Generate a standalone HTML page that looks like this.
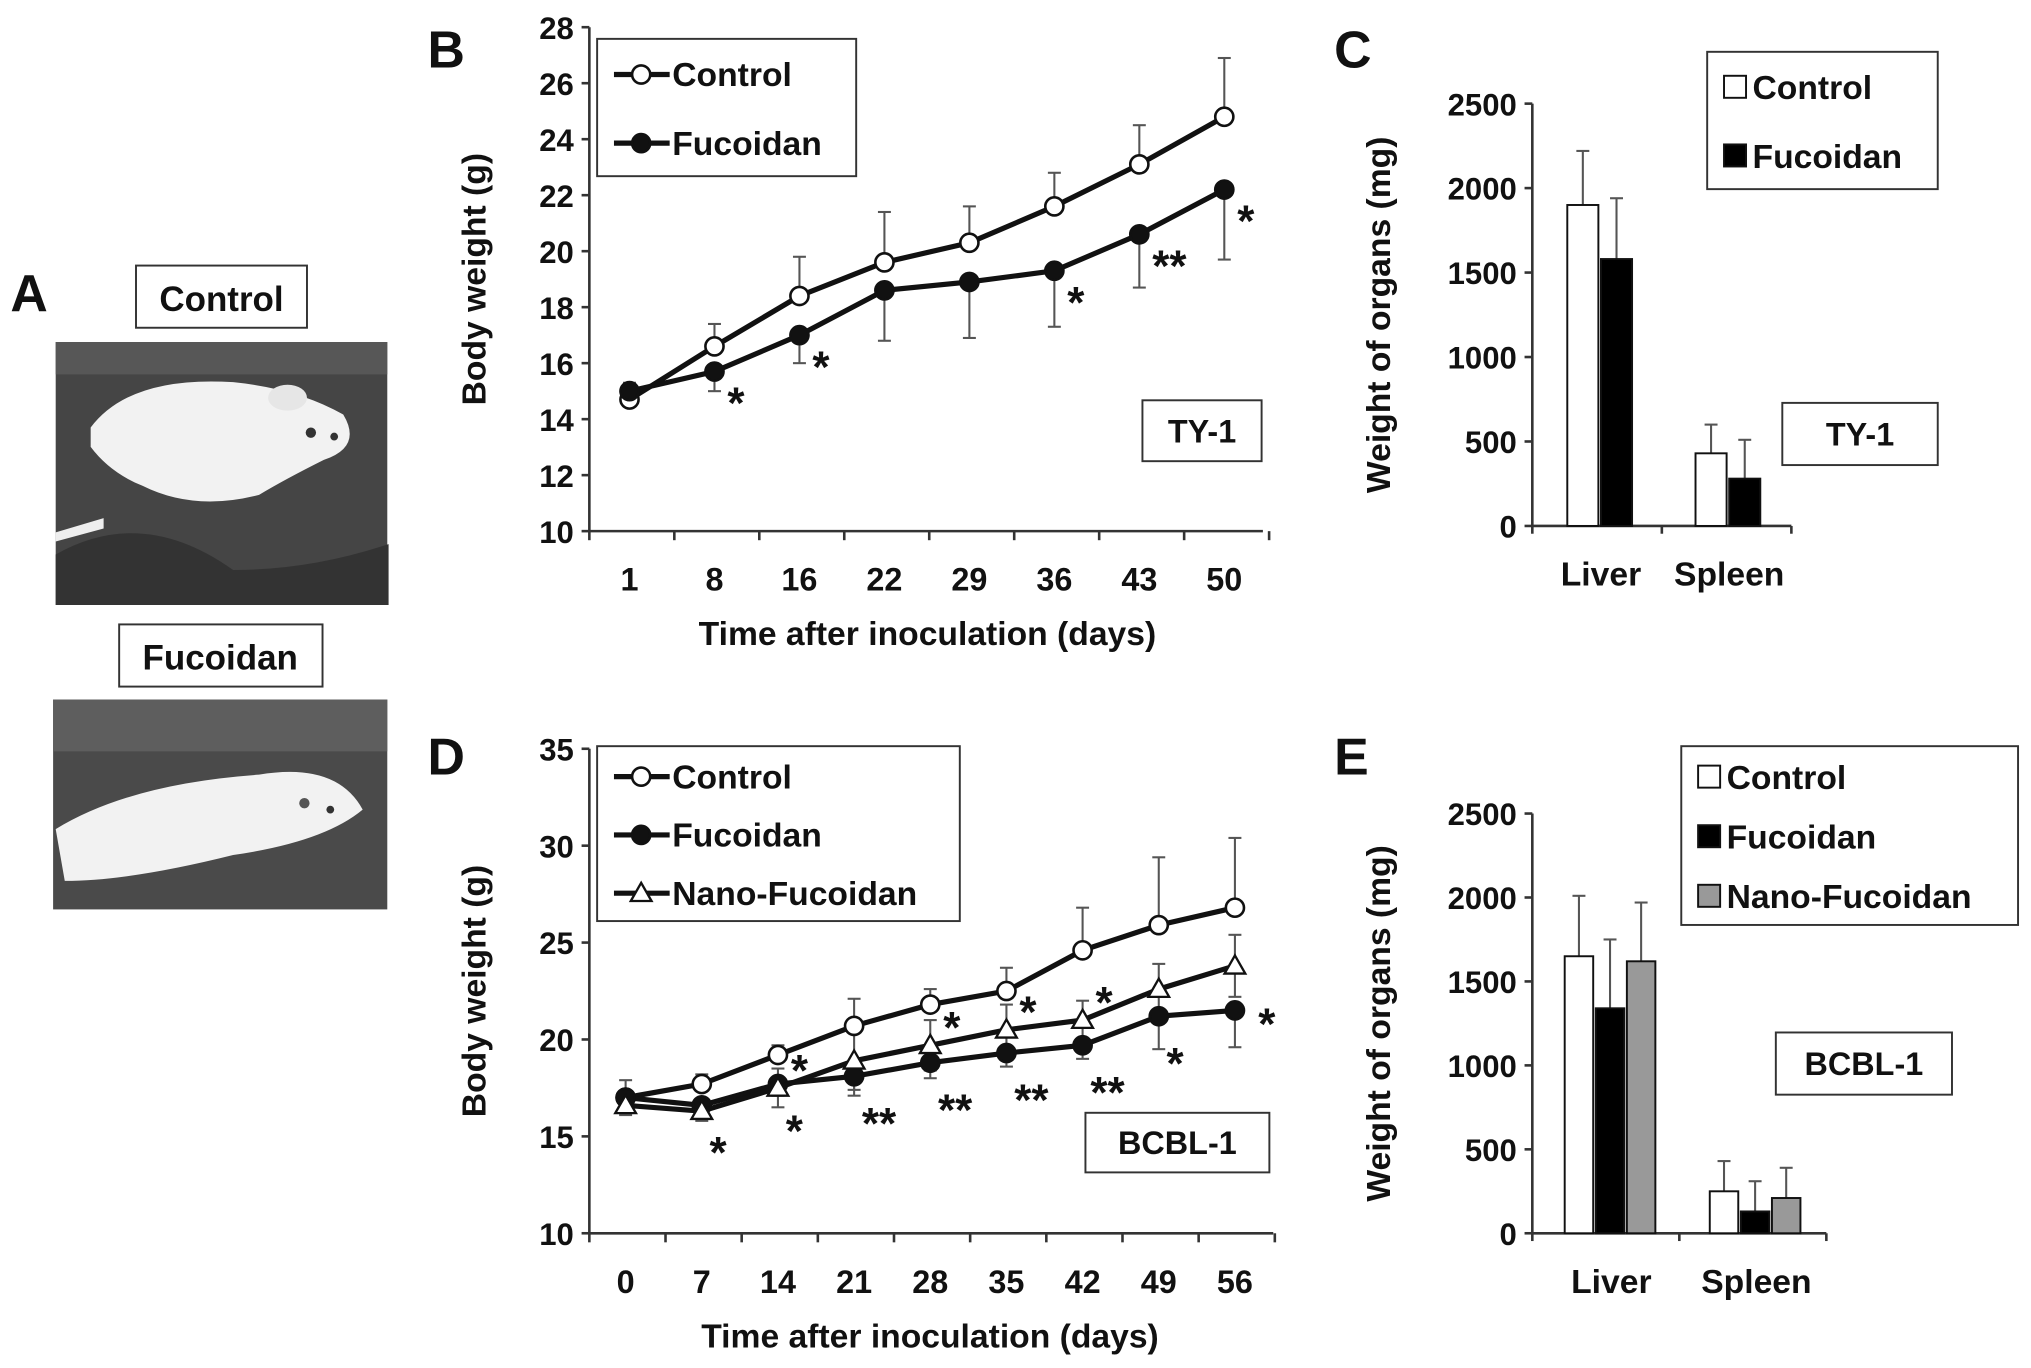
<!DOCTYPE html>
<html><head><meta charset="utf-8"><style>
html,body{margin:0;padding:0;background:#fff}
svg{display:block}
text{font-family:"Liberation Sans",Arial,sans-serif;font-weight:bold;fill:#111}
</style></head><body>
<svg id="fig" width="2031" height="1368" viewBox="0 0 1568 1056" preserveAspectRatio="none" xmlns="http://www.w3.org/2000/svg">
<g>
<text x="8" y="240" font-size="40">A</text>
<rect x="105" y="205" width="132" height="48" fill="#fff" stroke="#333" stroke-width="1.5"/>
<text x="171" y="240" font-size="27" text-anchor="middle">Control</text>
<g>
<rect x="43" y="264" width="256" height="203" fill="#454545"/>
<rect x="43" y="264" width="256" height="25" fill="#575757"/>
<path d="M43 428 Q110 390 180 440 Q240 440 300 420 L300 467 L43 467 Z" fill="#333"/>
<path d="M70 330 Q100 290 180 295 Q230 300 265 320 Q280 345 250 355 Q220 370 200 382 Q150 395 110 375 Q85 365 70 345 Z" fill="#f2f2f2"/>
<ellipse cx="222" cy="307" rx="15" ry="10" fill="#e6e6e6"/>
<path d="M43 411 L80 400 L80 408 L43 418 Z" fill="#eee"/>
<circle cx="240" cy="334" r="4" fill="#333"/><circle cx="258" cy="337" r="3" fill="#333"/>
</g>
<rect x="92" y="482" width="157" height="48" fill="#fff" stroke="#333" stroke-width="1.5"/>
<text x="170" y="517" font-size="27" text-anchor="middle">Fucoidan</text>
<g>
<rect x="41" y="540" width="258" height="162" fill="#4a4a4a"/>
<rect x="41" y="540" width="258" height="40" fill="#5e5e5e"/>
<path d="M43 640 Q100 605 200 598 Q260 588 280 625 Q250 650 180 660 Q100 680 50 680 Z" fill="#f2f2f2"/>
<circle cx="255" cy="625" r="3" fill="#333"/><circle cx="235" cy="620" r="4" fill="#555"/>
</g>
</g>
<g id="chartB"></g>
<g id="chartC"></g>
<g id="chartD"></g>
<g id="chartE"></g>
</svg>
<script>
const NS="http://www.w3.org/2000/svg";
// Panel B data
const bDays=["1","8","16","22","29","36","43","50"];
const bTicks=[10,12,14,16,18,20,22,24,26,28];
const bControl=[14.7,16.6,18.4,19.6,20.3,21.6,23.1,24.8];
const bControlErr=[0.6,0.8,1.4,1.8,1.3,1.2,1.4,2.1];
const bFuco=[15.0,15.7,17.0,18.6,18.9,19.3,20.6,22.2];
const bFucoErr=[0.5,0.7,1.0,1.8,2.0,2.0,1.9,2.5];
const bStars=["","*","*","","","*","**","*"];
// Panel C data
const cOrgans=["Liver","Spleen"];
const cTicks=[0,500,1000,1500,2000,2500];
const cControl=[1900,430];
const cControlErr=[320,170];
const cFuco=[1580,280];
const cFucoErr=[360,230];
// Panel D data
const dDays=["0","7","14","21","28","35","42","49","56"];
const dTicks=[10,15,20,25,30,35];
const dControl=[17.0,17.7,19.2,20.7,21.8,22.5,24.6,25.9,26.8];
const dControlErr=[0.9,0.5,0.5,1.4,0.8,1.2,2.2,3.5,3.6];
const dFuco=[17.0,16.6,17.7,18.1,18.8,19.3,19.7,21.2,21.5];
const dFucoErr=[0.6,0.5,0.6,1.0,0.8,0.7,0.7,1.7,1.9];
const dNano=[16.6,16.3,17.5,18.9,19.7,20.5,21.0,22.6,23.8];
const dNanoErr=[0.5,0.5,1.0,1.5,1.3,1.3,1.0,1.3,1.6];
const dStarsTop=["","","*","","*","*","*","",""];
const dStarsBot=["","*","*","**","**","**","**","*",""];
const dStarsRight=["","","","","","","","","*"];
// Panel E data
const eOrgans=["Liver","Spleen"];
const eTicks=[0,500,1000,1500,2000,2500];
const eControl=[1650,250];
const eControlErr=[360,180];
const eFuco=[1340,130];
const eFucoErr=[410,180];
const eNano=[1620,210];
const eNanoErr=[350,180];

function el(p,tag,attrs,txt){const e=document.createElementNS(NS,tag);for(const k in attrs)e.setAttribute(k,attrs[k]);if(txt!==undefined)e.textContent=txt;p.appendChild(e);return e;}
function lin(d0,d1,r0,r1){return v=>r0+(v-d0)*(r1-r0)/(d1-d0);}

function yAxis(g,x,ys,ticks,title,tx,fs){
  const a=el(g,'line',{x1:x,y1:ys(ticks[ticks.length-1]),x2:x,y2:ys(ticks[0]),stroke:'#333','stroke-width':2});
  
  ticks.forEach(t=>{el(g,'line',{x1:x-6,y1:ys(t),x2:x,y2:ys(t),stroke:'#333','stroke-width':2});
    const l=el(g,'text',{x:x-12,y:ys(t)+9,'font-size':fs,'text-anchor':'end'},t);
    });
  const my=(ys(ticks[0])+ys(ticks[ticks.length-1]))/2;
  const tt=el(g,'text',{x:tx,y:my,'font-size':26,'text-anchor':'middle',transform:`rotate(-90 ${tx} ${my})`},title);
  
}
function errbar(g,x,y0,y1,cap){el(g,'line',{x1:x,y1:y0,x2:x,y2:y1,stroke:'#555','stroke-width':1.6});el(g,'line',{x1:x-cap,y1:y1,x2:x+cap,y2:y1,stroke:'#555','stroke-width':1.6});}
function boxLabel(g,x,y,w,h,txt,name){const b=el(g,'rect',{x,y,width:w,height:h,fill:'#fff',stroke:'#333','stroke-width':1.5});
  
  const t=el(g,'text',{x:x+w/2,y:y+h/2+9,'font-size':25,'text-anchor':'middle'},txt);
  }

function marker(g,type,x,y,r){
  if(type==='open')return el(g,'circle',{cx:x,cy:y,r:r,fill:'#fff',stroke:'#111','stroke-width':2});
  if(type==='filled')return el(g,'circle',{cx:x,cy:y,r:r,fill:'#111',stroke:'#111','stroke-width':2});
  return el(g,'path',{d:`M${x} ${y-r-1} L${x+r+1} ${y+r-1} L${x-r-1} ${y+r-1} Z`,fill:'#fff',stroke:'#111','stroke-width':1.8});
}

function lineChart(g,cfg){
  const ys=lin(cfg.ticks[0],cfg.ticks[cfg.ticks.length-1],cfg.y0,cfg.y1);
  const xs=i=>cfg.xFirst+i*cfg.xStep;
  yAxis(g,cfg.ax,ys,cfg.ticks,'Body weight (g)',cfg.ax-80,24);
  const xa=el(g,'line',{x1:cfg.ax,y1:cfg.y0,x2:cfg.axEnd,y2:cfg.y0,stroke:'#333','stroke-width':2});
  
  for(let i=0;i<=cfg.cats.length;i++){const tx=cfg.ax+i*cfg.xStep;el(g,'line',{x1:tx,y1:cfg.y0,x2:tx,y2:cfg.y0+7,stroke:'#333','stroke-width':2});}
  cfg.cats.forEach((c,i)=>{const t=el(g,'text',{x:xs(i),y:cfg.y0+46,'font-size':25,'text-anchor':'middle'},c);
    });
  const xt=el(g,'text',{x:cfg.xTitleX,y:cfg.y0+88,'font-size':26,'text-anchor':'middle'},'Time after inoculation (days)');
  
  cfg.series.forEach(s=>{
    const eg=el(g,'g',{});
    s.vals.forEach((v,i)=>{if(s.dir!=='down')errbar(eg,xs(i),ys(v),ys(v+s.err[i]),5);if(s.dir!=='up')errbar(eg,xs(i),ys(v),ys(v-s.err[i]),5);});
  });
  cfg.series.forEach(s=>{
    const p=el(g,'polyline',{points:s.vals.map((v,i)=>xs(i)+','+ys(v)).join(' '),fill:'none',stroke:'#111','stroke-width':4});
    
    s.vals.forEach((v,i)=>{const m=marker(g,s.type,xs(i),ys(v),7);
      });
  });
  cfg.stars.forEach(st=>st.marks.forEach((m,i)=>{if(!m)return;
    const t=el(g,'text',{x:xs(i)+st.dx,y:ys(st.base[i])+st.dy,'font-size':34},m);
    }));
}

function barChart(g,cfg){
  const ys=lin(0,2500,cfg.y0,cfg.y1);
  yAxis(g,cfg.ax,ys,cfg.ticks,'Weight of organs (mg)',cfg.ax-110,24);
  const xa=el(g,'line',{x1:cfg.ax,y1:cfg.y0,x2:cfg.axEnd,y2:cfg.y0,stroke:'#333','stroke-width':2});
  
  const mid=(cfg.ax+cfg.axEnd)/2;
  [cfg.ax,mid,cfg.axEnd].forEach(tx=>el(g,'line',{x1:tx,y1:cfg.y0,x2:tx,y2:cfg.y0+6,stroke:'#333','stroke-width':2}));
  cfg.cats.forEach((c,ci)=>{
    const start=cfg.groupStart[ci];
    cfg.series.forEach((s,si)=>{
      const x=start+si*(cfg.bw+2),v=s.vals[ci];
      errbar(g,x+cfg.bw/2,ys(v),ys(v+s.err[ci]),5);
      const r=el(g,'rect',{x:x,y:ys(v),width:cfg.bw,height:cfg.y0-ys(v),fill:s.fill,stroke:'#111','stroke-width':1.5});
      
    });
    const cx=start+(cfg.series.length*(cfg.bw+2))/2;
    const t=el(g,'text',{x:cx,y:cfg.y0+46,'font-size':26,'text-anchor':'middle'},c);
    
  });
}

function legend(g,x,y,w,h,items,rowH,kind){
  const b=el(g,'rect',{x,y,width:w,height:h,fill:'#fff',stroke:'#333','stroke-width':1.5});
  
  items.forEach((it,i)=>{
    const cy=y+rowH/2+1+i*rowH;
    const lg=el(g,'g',{});
    if(kind==='line'){el(lg,'line',{x1:x+13,y1:cy,x2:x+56,y2:cy,stroke:'#111','stroke-width':4});marker(lg,it.type,x+34,cy,7);
      el(lg,'text',{x:x+58,y:cy+9,'font-size':26},it.label);}
    else{el(lg,'rect',{x:x+13,y:cy-9,width:17,height:17,fill:it.fill,stroke:'#111','stroke-width':1.5});
      el(lg,'text',{x:x+35,y:cy+9,'font-size':26},it.label);}
  });
}

const gB=document.getElementById('chartB');
el(gB,'text',{x:330,y:52,'font-size':40},'B');
lineChart(gB,{ax:455,axEnd:975,y0:410,y1:21,ticks:bTicks,cats:bDays,xFirst:486,xStep:65.6,xTitleX:716,
  series:[{name:'control',vals:bControl,err:bControlErr,type:'open',dir:'up'},{name:'fucoidan',vals:bFuco,err:bFucoErr,type:'filled',dir:'down'}],
  stars:[{marks:bStars,base:bFuco,dx:10,dy:36}]});
legend(gB,461,30,200,106,[{name:'control',label:'Control',type:'open'},{name:'fucoidan',label:'Fucoidan',type:'filled'}],53,'line');
boxLabel(gB,882,309,92,47,'TY-1','cell-line-label-ty1');

const gC=document.getElementById('chartC');
el(gC,'text',{x:1030,y:52,'font-size':40},'C');
barChart(gC,{ax:1183,axEnd:1383,y0:406,y1:80,ticks:cTicks,cats:cOrgans,groupStart:[1210,1309],bw:24,
  series:[{name:'control',vals:cControl,err:cControlErr,fill:'#fff'},{name:'fucoidan',vals:cFuco,err:cFucoErr,fill:'#000'}]});
legend(gC,1318,40,178,106,[{name:'control',label:'Control',fill:'#fff'},{name:'fucoidan',label:'Fucoidan',fill:'#000'}],53,'bar');
boxLabel(gC,1376,311,120,48,'TY-1','cell-line-label-ty1-organs');

const gD=document.getElementById('chartD');
el(gD,'text',{x:330,y:598,'font-size':40},'D');
lineChart(gD,{ax:455,axEnd:983,y0:952,y1:578,ticks:dTicks,cats:dDays,xFirst:483,xStep:58.8,xTitleX:718,
  series:[{name:'control',vals:dControl,err:dControlErr,type:'open',dir:'up'},{name:'fucoidan',vals:dFuco,err:dFucoErr,type:'filled',dir:'down'},{name:'nano-fucoidan',vals:dNano,err:dNanoErr,type:'tri',dir:'both'}],
  stars:[{marks:dStarsTop,base:dNano,dx:10,dy:-2},{marks:dStarsBot,base:dFuco,dx:6,dy:48},{marks:dStarsRight,base:dFuco,dx:18,dy:22}]});
legend(gD,461,576,280,135,[{name:'control',label:'Control',type:'open'},{name:'fucoidan',label:'Fucoidan',type:'filled'},{name:'nano-fucoidan',label:'Nano-Fucoidan',type:'tri'}],45,'line');
boxLabel(gD,838,859,142,46,'BCBL-1','cell-line-label-bcbl1');

const gE=document.getElementById('chartE');
el(gE,'text',{x:1030,y:598,'font-size':40},'E');
barChart(gE,{ax:1183,axEnd:1410,y0:952,y1:628,ticks:eTicks,cats:eOrgans,groupStart:[1208,1320],bw:22,
  series:[{name:'control',vals:eControl,err:eControlErr,fill:'#fff'},{name:'fucoidan',vals:eFuco,err:eFucoErr,fill:'#000'},{name:'nano-fucoidan',vals:eNano,err:eNanoErr,fill:'#999'}]});
legend(gE,1298,576,260,138,[{name:'control',label:'Control',fill:'#fff'},{name:'fucoidan',label:'Fucoidan',fill:'#000'},{name:'nano-fucoidan',label:'Nano-Fucoidan',fill:'#999'}],46,'bar');
boxLabel(gE,1371,797,136,48,'BCBL-1','cell-line-label-bcbl1-organs');
</script>
</body></html>
